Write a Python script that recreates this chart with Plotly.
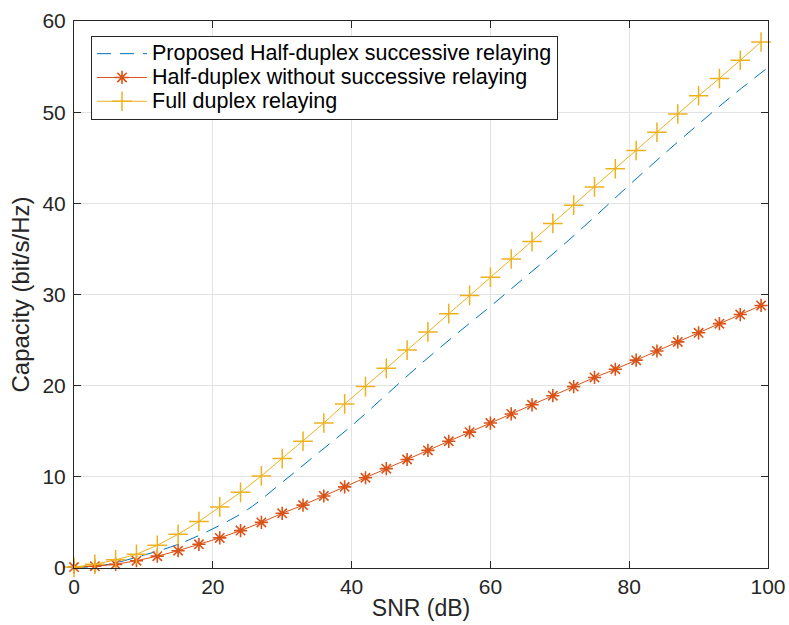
import plotly.graph_objects as go

# Data
snr_prop = [0, 5, 10, 15, 20, 25, 30, 35, 40, 45, 50, 55, 60, 65, 70, 75, 80, 85, 90, 95, 100]
cap_prop = [0.0, 0.4, 1.4, 2.6, 4.3, 6.4, 9.4, 12.5, 15.6, 19.0, 22.4, 25.6, 28.7, 31.9,
            35.1, 38.5, 42.0, 45.4, 48.7, 51.9, 54.9]

snr_mk = [0, 3, 6, 9, 12, 15, 18, 21, 24, 27, 30, 33, 36, 39, 42, 45, 48, 51, 54, 57,
          60, 63, 66, 69, 72, 75, 78, 81, 84, 87, 90, 93, 96, 99]
cap_hd = [0.1, 0.2, 0.4, 0.8, 1.3, 1.9, 2.6, 3.3, 4.1, 5.0, 6.0, 6.9, 7.9, 8.9, 9.9, 10.9,
          11.9, 12.9, 13.9, 14.9, 15.9, 16.9, 17.9, 18.9, 19.9, 20.9, 21.8, 22.8, 23.8,
          24.8, 25.8, 26.8, 27.8, 28.8]
cap_fd = [0.1, 0.4, 0.9, 1.5, 2.5, 3.7, 5.1, 6.7, 8.3, 10.1, 12.0, 13.9, 15.9, 18.0, 19.9,
          21.9, 23.9, 25.9, 27.9, 29.9, 31.9, 33.9, 35.8, 37.8, 39.8, 41.8, 43.8, 45.8,
          47.8, 49.8, 51.8, 53.7, 55.7, 57.7]

names = ["Proposed Half-duplex successive relaying",
         "Half-duplex without successive relaying",
         "Full duplex relaying"]
colors = ["#0072BD", "#D95319", "#EDB120"]

def legend_label(t):
    return "<span style='font-size:21.5px'>" + t + "</span>"

fig = go.Figure()
fig.add_trace(go.Scatter(x=snr_prop, y=cap_prop, mode="lines", name=legend_label(names[0]),
                         line=dict(color=colors[0], width=1, dash="14px,9px", shape="spline"),
                         cliponaxis=False))
fig.add_trace(go.Scatter(x=snr_mk, y=cap_hd, mode="lines+markers", name=legend_label(names[1]),
                         line=dict(color=colors[1], width=1),
                         marker=dict(symbol="asterisk-open", size=11,
                                     line=dict(color=colors[1], width=1.6)),
                         cliponaxis=False))
fig.add_trace(go.Scatter(x=snr_mk, y=cap_fd, mode="lines+markers", name=legend_label(names[2]),
                         line=dict(color=colors[2], width=1),
                         marker=dict(symbol="cross-thin-open", size=14,
                                     line=dict(color=colors[2], width=1.5)),
                         cliponaxis=False))

axis_common = dict(showline=True, linecolor="#262626", linewidth=1, mirror="ticks",
                   ticks="inside", ticklen=7, tickcolor="#262626", automargin=False,
                   showgrid=True, gridcolor="#e3e3e3", gridwidth=1, zeroline=False,
                   tickfont=dict(size=21, color="#262626"))

fig.update_xaxes(range=[0, 100], tickvals=[0, 20, 40, 60, 80, 100],
                 title=dict(text="SNR (dB)", font=dict(size=23, color="#262626"), standoff=2),
                 **axis_common)
fig.update_yaxes(range=[0, 60], tickvals=[0, 10, 20, 30, 40, 50, 60],
                 ticklabelstandoff=3,
                 title=dict(text="Capacity (bit/s/Hz)", font=dict(size=24, color="#262626"), standoff=6),
                 **axis_common)

fig.update_layout(
    width=789, height=625,
    margin=dict(l=74, r=21, t=21, b=57),
    paper_bgcolor="white", plot_bgcolor="white",
    font=dict(family="Liberation Sans, Arial, sans-serif", color="#262626"),
    showlegend=True,
    legend=dict(x=0.0245, y=0.973, xanchor="left", yanchor="top",
                bgcolor="white", bordercolor="#262626", borderwidth=1,
                font=dict(size=16, color="black"), tracegroupgap=0,
                itemwidth=50),
)

fig.write_html("out.html")
